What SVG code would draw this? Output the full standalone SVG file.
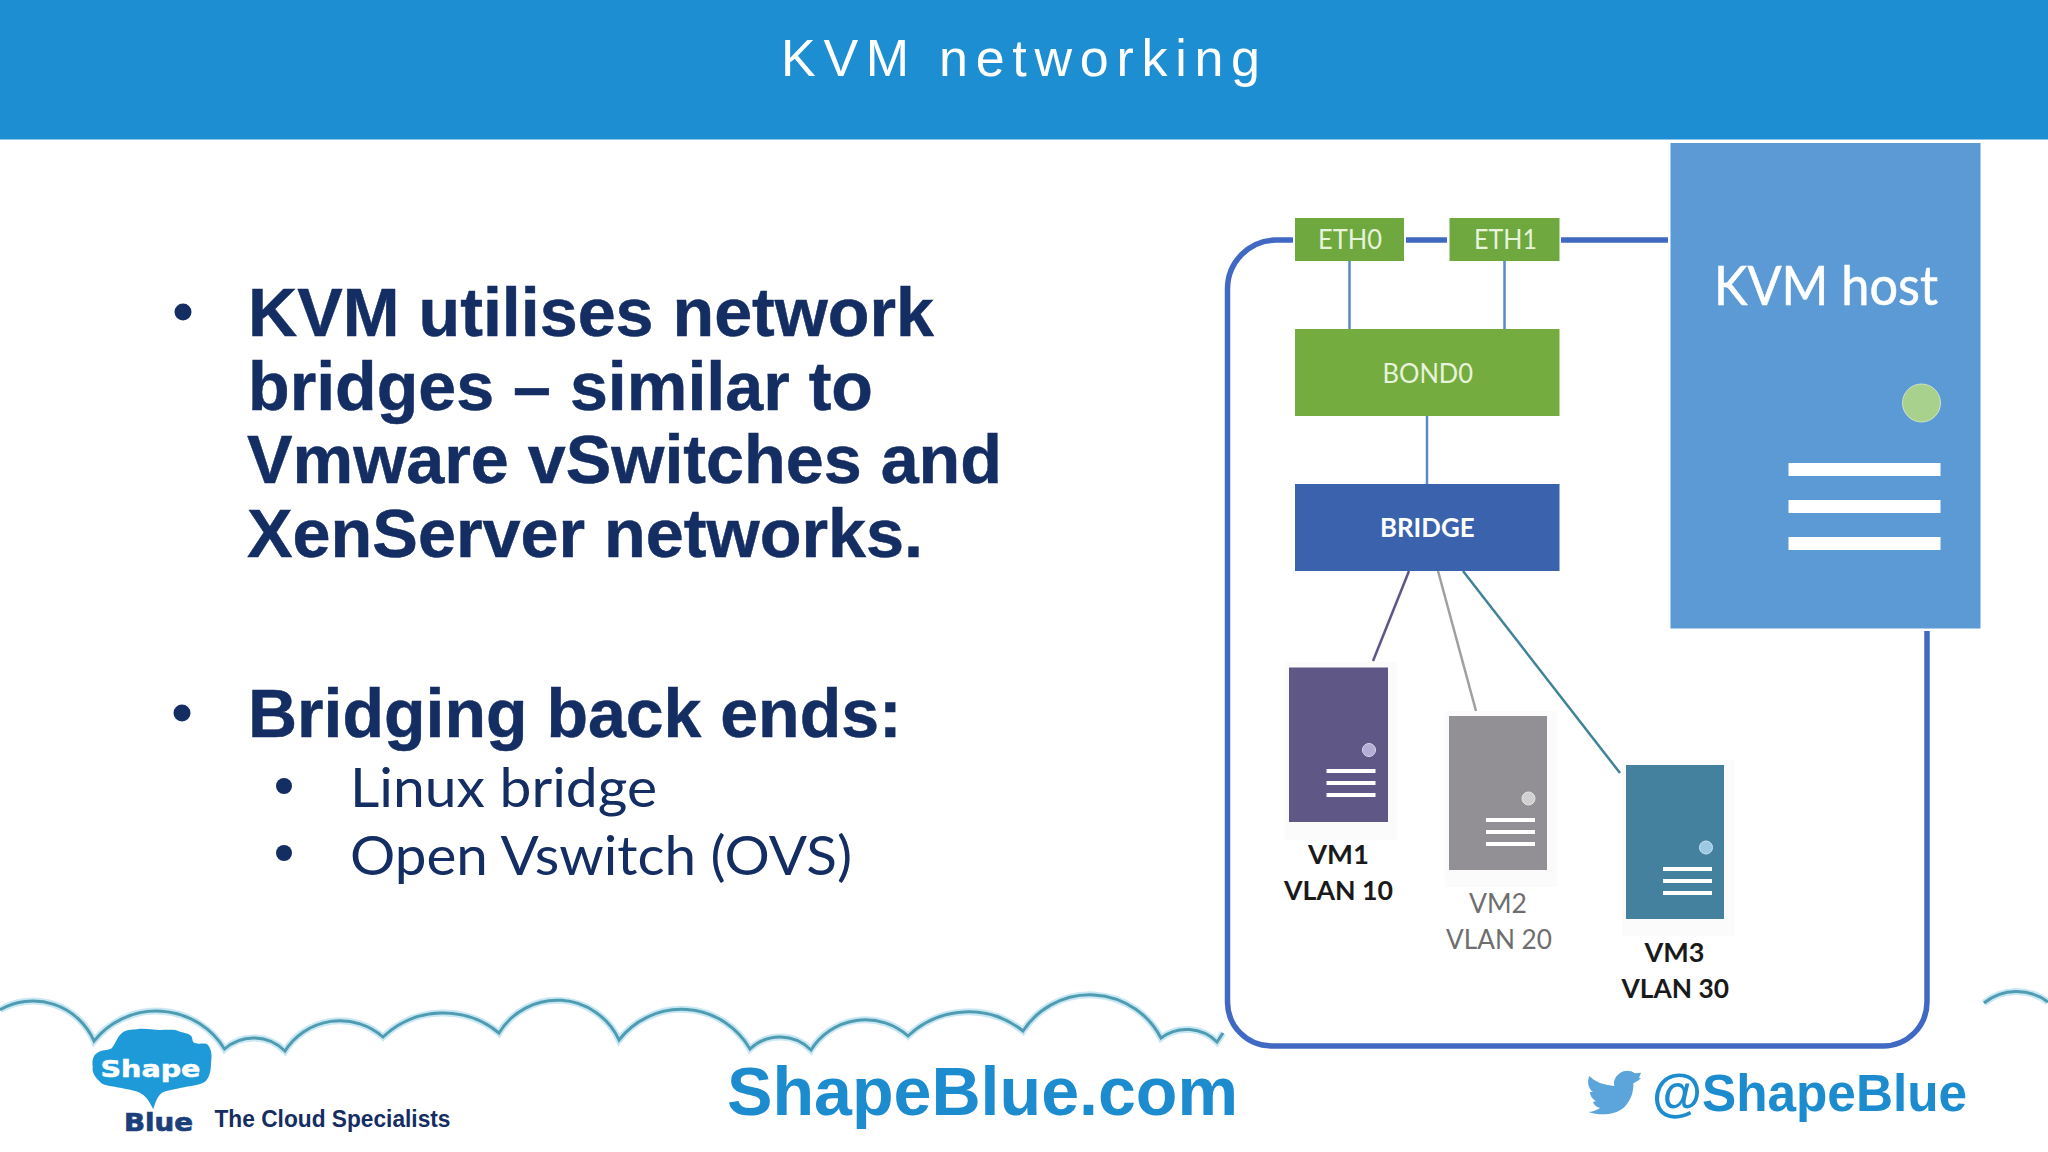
<svg xmlns="http://www.w3.org/2000/svg" width="2048" height="1152" viewBox="0 0 2048 1152">
<style>
text{font-family:"Liberation Sans",Arial,sans-serif}
.h{font-weight:700;font-size:68px;fill:#142d62;stroke:#142d62;stroke-width:.5}
.sub{font-family:Lato,"Liberation Sans",sans-serif;font-size:54px;fill:#142d62}
.n{font-family:Lato,"Liberation Sans",sans-serif;font-size:26px;fill:#e8f3dc}
.vb{font-family:Lato,"Liberation Sans",sans-serif;font-size:27px;font-weight:700;fill:#1a1a1a}
.vg{font-family:Lato,"Liberation Sans",sans-serif;font-size:27px;fill:#6e6e6e}
.loop{fill:none;stroke:#4169c4;stroke-width:5.500}
.stem{fill:none;stroke:#5a8ac6;stroke-width:2.500}
.cloud{fill:none;stroke:#4f9cb2;stroke-width:3}
.cloudglow{fill:none;stroke:#c9e8f3;stroke-width:7}
.bul{fill:#142d62}
.st{fill:#ffffff}
.sh{fill:#fbfbfc}
</style>
<defs>
<path id="cl" d="M0 1009.800A66.500 66.500 0 0 1 94 1041A80 80 0 0 1 224.500 1049A44 44 0 0 1 285 1051A65 65 0 0 1 383 1037A87.500 87.500 0 0 1 499 1033A68 68 0 0 1 619 1040A79 79 0 0 1 750 1049A43.500 43.500 0 0 1 811 1050A64 64 0 0 1 908 1036A87.600 87.600 0 0 1 1023 1031A80 80 0 0 1 1161 1038A43 43 0 0 1 1217 1042L1223 1033"/>
<path id="cr" d="M1984 1003A52 52 0 0 1 2048 1002"/>
</defs>
<rect width="2048" height="1152" fill="#ffffff"/>
<g id="header">
<rect width="2048" height="139.500" fill="#1d8ed1"/>
<text x="781" y="76" font-size="52" fill="#ffffff" textLength="479">KVM networking</text>
</g>
<g id="bullets">
<ellipse class="bul" cx="183" cy="312" rx="8.500" ry="8.500"/>
<text class="h" x="248" y="336" textLength="686" lengthAdjust="spacingAndGlyphs">KVM utilises network</text>
<text class="h" x="248" y="410" textLength="625" lengthAdjust="spacingAndGlyphs">bridges – similar to</text>
<text class="h" x="247" y="483" textLength="755" lengthAdjust="spacingAndGlyphs">Vmware vSwitches and</text>
<text class="h" x="247" y="557" textLength="676" lengthAdjust="spacingAndGlyphs">XenServer networks.</text>
<ellipse class="bul" cx="182" cy="713" rx="8.500" ry="8.500"/>
<text class="h" x="248" y="737">Bridging back ends:</text>
<ellipse class="bul" cx="284" cy="786" rx="8" ry="8"/>
<text class="sub" x="350" y="807" textLength="307" lengthAdjust="spacingAndGlyphs">Linux bridge</text>
<ellipse class="bul" cx="284" cy="853" rx="8" ry="8"/>
<text class="sub" x="350" y="875" textLength="502" lengthAdjust="spacingAndGlyphs">Open Vswitch (OVS)</text>
</g>
<g id="clouds">
<use href="#cl" class="cloudglow"/><use href="#cr" class="cloudglow"/>
<use href="#cl" class="cloud"/><use href="#cr" class="cloud"/>
</g>
<g id="connectors">
<path class="loop" d="M1668 240H1561M1447 240H1406M1293 240H1276A49 49 0 0 0 1227.500 289V1002A44 44 0 0 0 1271 1046H1883A44 44 0 0 0 1927 1002V631"/>
<path class="stem" d="M1349.500 261V329M1504.500 261V329M1427 416V484"/>
<path fill="none" stroke="#5a5688" stroke-width="2.500" d="M1409 571L1373 661"/>
<path fill="none" stroke="#a09ea3" stroke-width="2.500" d="M1438 571L1476 711"/>
<path fill="none" stroke="#3f8299" stroke-width="2.500" d="M1463 571L1620 773"/>
</g>
<g id="eth0"><rect x="1295" y="218" width="109" height="43" fill="#6ea83e"/><text class="n" x="1318" y="248.500" textLength="64" lengthAdjust="spacingAndGlyphs">ETH0</text></g>
<g id="eth1"><rect x="1449.500" y="218" width="110" height="43" fill="#6ea83e"/><text class="n" x="1474" y="248.500" textLength="63" lengthAdjust="spacingAndGlyphs">ETH1</text></g>
<g id="bond0"><rect x="1295" y="329" width="264.500" height="87" fill="#75ac3f"/><text class="n" x="1382.500" y="383" textLength="90.500" lengthAdjust="spacingAndGlyphs">BOND0</text></g>
<g id="bridge"><rect x="1295" y="484" width="264.500" height="87" fill="#3a62ad"/><text class="n" x="1380" y="537" textLength="94.500" lengthAdjust="spacingAndGlyphs" style="fill:#fff;font-weight:700">BRIDGE</text></g>
<g id="kvm-host">
<rect x="1670.500" y="143" width="310" height="485.500" fill="#5b9ad5"/>
<text x="1714" y="305" textLength="224" lengthAdjust="spacingAndGlyphs" font-size="54" fill="#ffffff" stroke="#ffffff" stroke-width=".6" style="font-family:Lato,'Liberation Sans',sans-serif">KVM host</text>
<circle cx="1921.500" cy="403" r="19" fill="#a9d18e" stroke="#cfe3c0" stroke-width="1"/>
<rect class="st" x="1788.500" y="463" width="152" height="13"/><rect class="st" x="1788.500" y="500" width="152" height="13"/><rect class="st" x="1788.500" y="537" width="152" height="13"/>
</g>
<g id="vm1">
<rect class="sh" x="1285" y="662" width="112" height="178"/>
<rect x="1289" y="667.500" width="99" height="154.500" fill="#5f5886"/>
<circle cx="1369" cy="750" r="6.500" fill="#b4aed6" stroke="#dcd9ec"/>
<rect class="st" x="1326.500" y="769" width="49" height="4"/><rect class="st" x="1326.500" y="781" width="49" height="4"/><rect class="st" x="1326.500" y="793" width="49" height="4"/>
<text class="vb" x="1308" y="864" textLength="61" lengthAdjust="spacingAndGlyphs">VM1</text>
<text class="vb" x="1284" y="900" textLength="109" lengthAdjust="spacingAndGlyphs">VLAN 10</text>
</g>
<g id="vm2">
<rect class="sh" x="1445" y="711" width="112" height="176"/>
<rect x="1449" y="716" width="98" height="154" fill="#929094"/>
<circle cx="1528.500" cy="798.500" r="6.500" fill="#d0d0d0" stroke="#e6e6e6"/>
<rect class="st" x="1486" y="818" width="49" height="4"/><rect class="st" x="1486" y="830" width="49" height="4"/><rect class="st" x="1486" y="842" width="49" height="4"/>
<text class="vg" x="1469" y="913" textLength="58" lengthAdjust="spacingAndGlyphs">VM2</text>
<text class="vg" x="1446" y="949" textLength="106" lengthAdjust="spacingAndGlyphs">VLAN 20</text>
</g>
<g id="vm3">
<rect class="sh" x="1622" y="760" width="112" height="176"/>
<rect x="1626" y="765" width="98" height="154" fill="#44819f"/>
<circle cx="1706" cy="847.500" r="6.500" fill="#9cc8e4" stroke="#cfe4f2"/>
<rect class="st" x="1663" y="867" width="49" height="4"/><rect class="st" x="1663" y="879" width="49" height="4"/><rect class="st" x="1663" y="891" width="49" height="4"/>
<text class="vb" x="1644.500" y="962" textLength="60" lengthAdjust="spacingAndGlyphs">VM3</text>
<text class="vb" x="1621.500" y="998" textLength="107.500" lengthAdjust="spacingAndGlyphs">VLAN 30</text>
</g>
<g id="logo">
<path fill="#1f9ad9" d="M153.300 1109.300C150 1103 148 1099 143.300 1095C136 1090 130 1090 121.700 1088C112 1086 103 1086 100 1081.700C94 1076 92 1072 92.700 1066.700C92 1060 93 1056 96.700 1053.300C102 1049 108 1051 111.700 1048.300C116 1043 117 1037 121.700 1033.300C127 1029 131 1030 136.700 1029.300C145 1028 152 1030 160 1030C168 1030 175 1029 180 1031.700C186 1033 190 1034 191.700 1036.700C193 1040 192 1042 195 1043C200 1045 205 1042 208 1045C212 1050 212 1057 211 1063C211 1072 209 1078 205 1081.700C198 1086 188 1086 180 1088C172 1090 167 1090 161.700 1093C157 1097 155.500 1102 153.300 1109.300Z"/>
<text x="100.500" y="1077" font-size="23" font-weight="700" fill="#ffffff" stroke="#ffffff" stroke-width=".5" textLength="100" lengthAdjust="spacingAndGlyphs" style="font-family:'DejaVu Sans',sans-serif">Shape</text>
<text x="124" y="1131" font-size="24" font-weight="700" fill="#1c3f7c" stroke="#1c3f7c" stroke-width=".7" textLength="69" lengthAdjust="spacingAndGlyphs" style="font-family:'DejaVu Sans',sans-serif">Blue</text>
<text x="214.500" y="1127" font-size="23" font-weight="700" fill="#142d62" textLength="236" lengthAdjust="spacingAndGlyphs">The Cloud Specialists</text>
</g>
<g id="footer">
<text x="727" y="1114.500" font-size="69" font-weight="700" fill="#1c8ccf" textLength="511" lengthAdjust="spacingAndGlyphs">ShapeBlue.com</text>
<path fill="#5ba5dc" d="M1589.300 1076C1595 1082 1604 1085 1614.300 1086C1613 1080 1616 1076 1620 1073C1625 1070 1630 1070 1635 1073.300L1641 1072.700L1639 1078L1641 1078C1638 1081 1636 1082 1633.300 1083.300C1634 1094 1629 1103 1623.300 1108C1615 1115 1600 1116 1588.300 1112C1592 1112 1597 1110 1600 1108C1596 1107 1594 1105 1593 1102L1596 1101C1592 1099 1590 1095 1590 1092L1593 1092C1588 1088 1587 1082 1589.300 1076Z"/>
<text x="1652" y="1111" font-size="51" font-weight="700" fill="#1c8ccf" textLength="315" lengthAdjust="spacingAndGlyphs">@ShapeBlue</text>
</g>
</svg>
